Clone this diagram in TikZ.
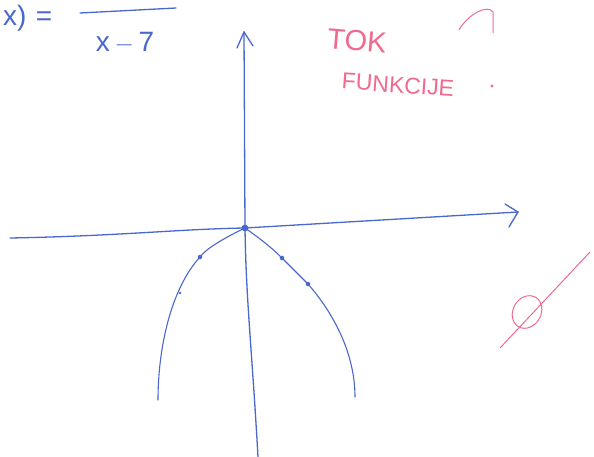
\documentclass[tikz,border=0pt]{standalone}
\usepackage{fontspec}
\setmainfont{Liberation Sans}
\usetikzlibrary{arrows.meta,calc}
\definecolor{ink}{HTML}{4A68CC}
\definecolor{pinkink}{HTML}{F06A8E}
\tikzset{line width=1.1pt,
  axis/.style={draw=ink,line width=1.3pt,line cap=round},
  curve/.style={draw=ink,line width=1.1pt,line cap=round},
  pt/.style={circle,fill=ink,inner sep=1.6pt},
  note/.style={text=pinkink,inner sep=0pt},
  formula/.style={text=ink,inner sep=0pt,font=\fontsize{28}{30}\selectfont}}
\begin{document}
\begin{tikzpicture}[x=1pt,y=-1pt]
\useasboundingbox (0,0) rectangle (594,457);
% axes
\coordinate (O) at (245,228);
\coordinate (xl) at (10,238);\coordinate (xr) at (518,212);
\coordinate (yb) at (258,457);\coordinate (yt) at (244,32);
\draw[axis] (xl) .. controls (120,236) and (180,229) .. (O) -- (xr);
\draw[axis] (505,204) -- (xr) -- (509,227);
\draw[axis] (yb) .. controls (252,350) and (246,300) .. (O) -- (yt);
\draw[axis] (237,48) -- (yt) -- (253,46);
% curve
\node[pt,inner sep=2.4pt] (o) at (O) {};
\node[pt] (a) at (200,257) {};
\node[pt,inner sep=1pt] (a2) at (180,293) {};
\node[pt] (b) at (282,258) {};
\node[pt] (c) at (308,284) {};
\coordinate (lend) at (158,400);\coordinate (rend) at (355,397);
\draw[curve] (o.center) .. controls (220,240) and (205,250) .. (a.center)
  .. controls (170,290) and (158,350) .. (lend);
\draw[curve] (o.center) .. controls (262,240) and (272,248) .. (b.center)
  -- (c.center) .. controls (335,315) and (355,355) .. (rend);
% formula
\node[formula,anchor=west] (fx) at (3,18) {x)\,\,=};
\coordinate (fa) at (80,13);\coordinate (fb) at (176,8);
\draw[curve,line width=1.3pt] (fa) -- (fb);
\node[formula] (den) at (125,43) {x\,$-$\,7};
% notes
\node[note,rotate=-5,font=\fontsize{29}{30}\selectfont] (tok) at (357,41) {TOK};
\node[note,rotate=-4,font=\fontsize{23}{25}\selectfont] (fun) at (398,85) {FUNKCIJE};
\draw[pinkink,line width=1pt,line cap=round] (459,30) .. controls (468,14) and (488,4) .. (493,12) -- (493,33);
\node[circle,fill=pinkink,inner sep=1.2pt] (qd) at (492,86) {};
% empty set
\draw[pinkink,line width=1pt,rotate around={-30:(527,312)}] (527,312) ellipse (14 and 17);
\coordinate (sa) at (500,348);\coordinate (sb) at (590,252);
\draw[pinkink,line width=1pt] (sa) -- (sb);
\end{tikzpicture}
\end{document}
